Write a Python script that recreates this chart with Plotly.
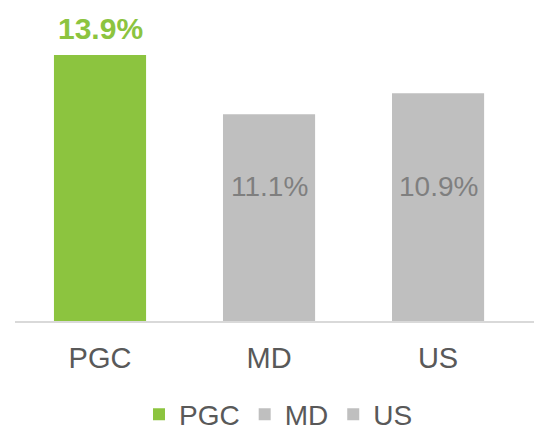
import plotly.graph_objects as go

categories = ["PGC", "MD", "US"]
bar_values = [13.9, 10.8, 11.9]
value_labels = ["13.9%", "11.1%", "10.9%"]
colors = ["#8cc43f", "#bfbfbf", "#bfbfbf"]

FONT = "Liberation Sans Narrow, Arial Narrow, Liberation Sans, Arial, sans-serif"

fig = go.Figure()
for cat, val, col in zip(categories, bar_values, colors):
    fig.add_trace(go.Bar(
        x=[cat], y=[val], name=cat, marker=dict(color=col, line=dict(width=0)),
        width=0.545, hoverinfo="skip",
    ))

annotations = []
for i, (cat, val, lab) in enumerate(zip(categories, bar_values, value_labels)):
    if i == 0:
        annotations.append(dict(x=cat, y=val, text=f"<b>{lab}</b>", showarrow=False,
                                yanchor="bottom", yshift=8,
                                font=dict(family=FONT, size=30, color="#8cc43f")))
    else:
        annotations.append(dict(x=cat, y=7.05, text=lab, showarrow=False,
                                yanchor="middle",
                                font=dict(family=FONT, size=28, color="#7f7f7f")))

fig.update_layout(
    width=534, height=424,
    margin=dict(l=7, r=0, t=0, b=111, autoexpand=False),
    paper_bgcolor="white", plot_bgcolor="white",
    barmode="overlay",
    showlegend=True,
    legend=dict(orientation="h", x=0.5, xanchor="center", y=-0.219, yanchor="top",
                font=dict(family=FONT, size=28, color="#595959"),
                itemclick=False, itemdoubleclick=False),
    xaxis=dict(range=[-0.503, 2.615], showgrid=False, zeroline=False,
               showline=True, linecolor="#d9d9d9", linewidth=2,
               ticks="", ticklabelstandoff=10,
               tickfont=dict(family=FONT, size=29, color="#595959")),
    yaxis=dict(range=[0, 16.35], visible=False, showgrid=False, zeroline=False),
    annotations=annotations,
)

fig.write_html("out.html")
